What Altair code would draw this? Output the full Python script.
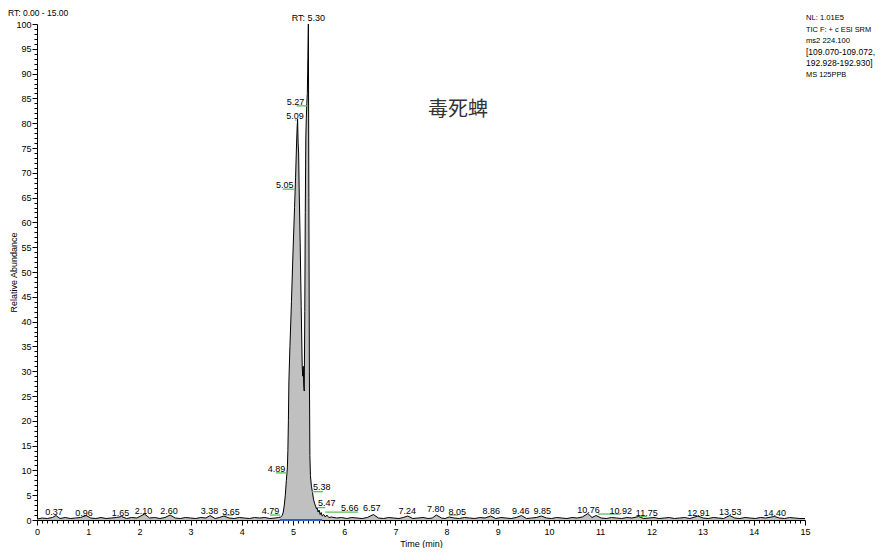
import altair as alt
import pandas as pd

# ---------------- data ----------------
times = [0.00, 0.10, 0.20, 0.30, 0.37, 0.45, 0.55, 0.65, 0.75, 0.85, 0.96, 1.05, 1.15, 1.25, 1.35,
         1.45, 1.55, 1.65, 1.75, 1.85, 1.95, 2.10, 2.20, 2.30, 2.40, 2.50, 2.60, 2.70, 2.80, 2.90,
         3.00, 3.10, 3.20, 3.30, 3.38, 3.48, 3.56, 3.65, 3.75, 3.85, 3.95, 4.05, 4.15, 4.25, 4.35,
         4.45, 4.55, 4.65,
         4.72, 4.76, 4.79, 4.81, 4.83, 4.85, 4.87, 4.89, 4.90, 4.91, 4.92, 4.94, 4.97, 5.00, 5.03,
         5.05, 5.07, 5.08, 5.09, 5.10, 5.11, 5.12, 5.14, 5.16, 5.18, 5.19, 5.20, 5.21, 5.22, 5.23,
         5.24, 5.25, 5.26, 5.27, 5.28, 5.29, 5.30, 5.31, 5.32, 5.33, 5.34, 5.36, 5.38, 5.40, 5.42,
         5.44, 5.46, 5.47, 5.49, 5.51, 5.53, 5.55, 5.57, 5.60, 5.63, 5.66, 5.70,
         5.75, 5.85, 5.95, 6.05, 6.15, 6.25, 6.35, 6.45, 6.57, 6.67, 6.77, 6.87, 6.97, 7.07, 7.15,
         7.24, 7.34, 7.44, 7.54, 7.64, 7.72, 7.80, 7.90, 7.97, 8.05, 8.15, 8.25, 8.35, 8.45, 8.55,
         8.65, 8.75, 8.86, 8.96, 9.06, 9.16, 9.26, 9.36, 9.46, 9.56, 9.66, 9.75, 9.85, 9.95, 10.05,
         10.15, 10.25, 10.35, 10.45, 10.55, 10.65, 10.76, 10.84, 10.92, 11.02, 11.12, 11.22, 11.32,
         11.42, 11.52, 11.62, 11.75, 11.85, 11.95, 12.05, 12.15, 12.25, 12.35, 12.45, 12.55, 12.65,
         12.75, 12.91, 13.01, 13.11, 13.21, 13.31, 13.41, 13.53, 13.63, 13.73, 13.83, 13.93, 14.03,
         14.13, 14.23, 14.40, 14.50, 14.60, 14.70, 14.80, 14.90, 15.00]
abundance = [0.2, 0.4, 0.3, 0.5, 0.9, 0.3, 0.5, 0.3, 0.4, 0.5, 0.9, 0.4, 0.3, 0.5, 0.3,
             0.4, 0.5, 0.7, 0.3, 0.5, 0.4, 1.2, 0.4, 0.5, 0.3, 0.5, 1.0, 0.4, 0.3, 0.5,
             0.4, 0.3, 0.5, 0.4, 0.9, 0.3, 0.5, 0.8, 0.4, 0.3, 0.5, 0.4, 0.3, 0.5, 0.4,
             0.5, 0.3, 0.4,
             0.5, 0.6, 0.9, 1.6, 3.0, 5.0, 8.0, 10.5, 14, 20, 28, 35, 44, 54, 63,
             69, 76, 79, 80.8, 76, 74, 67, 56, 43, 31, 29, 31, 27, 26, 42,
             62, 77, 81, 84, 86, 93, 100, 65, 30, 13, 9, 6.8, 5.6, 4.2, 3.4,
             2.8, 2.2, 2.6, 1.6, 2.0, 1.1, 1.5, 0.8, 1.1, 0.6, 1.0, 0.5,
             0.6, 0.4, 0.5, 0.3, 0.5, 0.4, 0.3, 0.5, 1.1, 0.4, 0.3, 0.5, 0.4, 0.3, 0.5,
             0.8, 0.3, 0.4, 0.5, 0.3, 0.4, 1.0, 0.4, 0.3, 0.6, 0.4, 0.3, 0.5, 0.4, 0.3,
             0.5, 0.4, 0.8, 0.3, 0.5, 0.4, 0.3, 0.5, 0.9, 0.3, 0.4, 0.5, 0.8, 0.4, 0.3,
             0.5, 0.4, 0.3, 0.5, 0.4, 0.6, 1.3, 0.5, 0.9, 0.4, 0.3, 0.5, 0.4,
             0.3, 0.5, 0.4, 0.7, 0.3, 0.4, 0.5, 0.3, 0.4, 0.5, 0.3, 0.4, 0.5,
             0.3, 0.8, 0.4, 0.3, 0.5, 0.4, 0.3, 0.9, 0.4, 0.3, 0.5, 0.4, 0.3,
             0.5, 0.4, 0.7, 0.4, 0.3, 0.5, 0.4, 0.3, 0.3]

label_text = ["RT: 5.30", "5.27", "5.09", "5.05", "4.89", "5.38", "5.47", "5.66", "6.57", "4.79",
              "0.37", "0.96", "1.65", "2.10", "2.60", "3.38", "3.65", "7.24", "7.80", "8.05",
              "8.86", "9.46", "9.85", "10.76", "10.92", "11.75", "12.91", "13.53", "14.40"]
label_t = [5.30, 5.05, 5.04, 4.84, 4.68, 5.56, 5.66, 6.11, 6.54, 4.56,
           0.33, 0.92, 1.63, 2.08, 2.58, 3.37, 3.79, 7.23, 7.79, 8.21,
           8.87, 9.45, 9.87, 10.77, 11.40, 11.91, 12.92, 13.54, 14.41]
label_a = [101.2, 84.3, 81.5, 67.5, 10.3, 6.6, 3.5, 2.5, 2.4, 1.9,
           1.6, 1.5, 1.5, 1.9, 1.9, 1.9, 1.6, 1.8, 2.2, 1.6,
           1.9, 1.9, 1.9, 2.0, 1.8, 1.35, 1.5, 1.7, 1.5]

green_t1 = [5.07, 5.04, 4.80, 4.67, 5.37, 5.46, 5.63, 4.55, 3.63, 8.05, 10.96, 11.78]
green_t2 = [5.28, 5.07, 5.04, 4.88, 5.59, 5.63, 6.27, 4.75, 3.83, 8.22, 11.39, 11.91]
green_a = [83.5, 80.6, 66.7, 9.5, 5.7, 2.5, 1.6, 1.0, 1.0, 1.0, 1.2, 0.7]

baseline_t1 = [4.74]
baseline_t2 = [5.57]
baseline_a = [0.0]

range_text = "RT: 0.00 - 15.00"
info_lines = ["NL: 1.01E5", "TIC F: + c ESI SRM", "ms2 224.100",
              "[109.070-109.072,", "192.928-192.930]", "MS 125PPB"]
compound = "毒死蜱"

x_ticks = [round(i * 0.1, 1) for i in range(151)]
y_ticks = list(range(101))

# ---------------- chart ----------------
FONT = "Liberation Sans"
trace = pd.DataFrame({"t": times, "a": abundance})
labels = pd.DataFrame({"text": label_text, "t": label_t, "a": label_a})
greens = pd.DataFrame({"t1": green_t1, "t2": green_t2, "a": green_a})
base = pd.DataFrame({"t1": baseline_t1, "t2": baseline_t2, "a": baseline_a})

xscale = alt.Scale(domain=[0, 15], nice=False, zero=False)
yscale = alt.Scale(domain=[0, 100], nice=False)

is_int_x = "abs(datum.value - round(datum.value)) < 0.001"
xaxis = alt.Axis(
    values=x_ticks, title="Time (min)", grid=False,
    labelExpr=f"{is_int_x} ? format(datum.value, 'd') : ''",
    tickSize={"condition": {"test": is_int_x, "value": 5}, "value": 3},
    labelOverlap=False, labelBound=False, labelFlush=False,
    labelPadding=2, titlePadding=3,
)
is5 = "datum.value % 5 === 0"
yaxis = alt.Axis(
    values=y_ticks, title="Relative Abundance", grid=False,
    labelExpr=f"{is5} ? format(datum.value, 'd') : ''",
    tickSize={"condition": {"test": is5, "value": 5}, "value": 3},
    labelOverlap=False, labelBound=False, labelFlush=False,
    labelPadding=1, titleX=-19, titleY=248,
)

area = alt.Chart(trace).mark_area(color="#c0c0c0", interpolate="linear").encode(
    x=alt.X("t:Q", scale=xscale, axis=xaxis),
    y=alt.Y("a:Q", scale=yscale, axis=yaxis),
)
line = alt.Chart(trace).mark_line(color="black", strokeWidth=1, interpolate="linear").encode(
    x=alt.X("t:Q", scale=xscale, axis=xaxis),
    y=alt.Y("a:Q", scale=yscale, axis=yaxis),
)
green = alt.Chart(greens).mark_rule(color="#5cbf5c", strokeWidth=1.3).encode(
    x=alt.X("t1:Q", scale=xscale, axis=xaxis), x2="t2:Q",
    y=alt.Y("a:Q", scale=yscale, axis=yaxis),
)
blue = alt.Chart(base).mark_rule(color="#2a62c9", strokeWidth=2).encode(
    x=alt.X("t1:Q", scale=xscale, axis=xaxis), x2="t2:Q",
    y=alt.Y("a:Q", scale=yscale, axis=yaxis),
)
peak_labels = alt.Chart(labels).mark_text(
    font=FONT, fontSize=9, color="black", align="center", baseline="middle"
).encode(
    x=alt.X("t:Q", scale=xscale, axis=xaxis),
    y=alt.Y("a:Q", scale=yscale, axis=yaxis),
    text="text:N",
)

rt_text = alt.Chart(pd.DataFrame({"s": [range_text]})).mark_text(
    font=FONT, fontSize=8.5, color="black", align="left", baseline="top"
).encode(x=alt.value(-29), y=alt.value(-15.5), text="s:N")

# header block at the right, one text mark per line (positions/sizes are layout)
info_y = [-6, 5.5, 17, 28, 39, 50.5]
info_size = [7.6, 7.4, 7.6, 8.5, 8.5, 7.4]
info_layers = [
    alt.Chart(pd.DataFrame({"s": [s]})).mark_text(
        font=FONT, fontSize=fs, color="black", align="left", baseline="middle"
    ).encode(x=alt.value(769), y=alt.value(yy), text="s:N")
    for s, yy, fs in zip(info_lines, info_y, info_size)
]

title_text = alt.Chart(pd.DataFrame({"s": [compound]})).mark_text(
    font="Noto Sans CJK SC", fontSize=20, color="#333333", align="center", baseline="middle"
).encode(x=alt.value(421), y=alt.value(86), text="s:N")

chart = alt.layer(area, line, blue, green, peak_labels, rt_text, *info_layers, title_text).properties(
    width=768, height=496,
    autosize=alt.AutoSizeParams(type="none"),
    padding={"left": 29, "top": 16, "right": 73, "bottom": 28},
    background="white",
).configure_view(strokeWidth=0).configure_axis(
    labelOverlap=False, labelFont=FONT, labelFontSize=9, labelColor="black",
    titleFont=FONT, titleFontSize=9, titleFontWeight="normal", titleColor="black",
    domainColor="black", tickColor="black", tickWidth=1, domainWidth=1, grid=False,
)

chart.save("out.html", embed_options={"renderer": "svg", "actions": False})
